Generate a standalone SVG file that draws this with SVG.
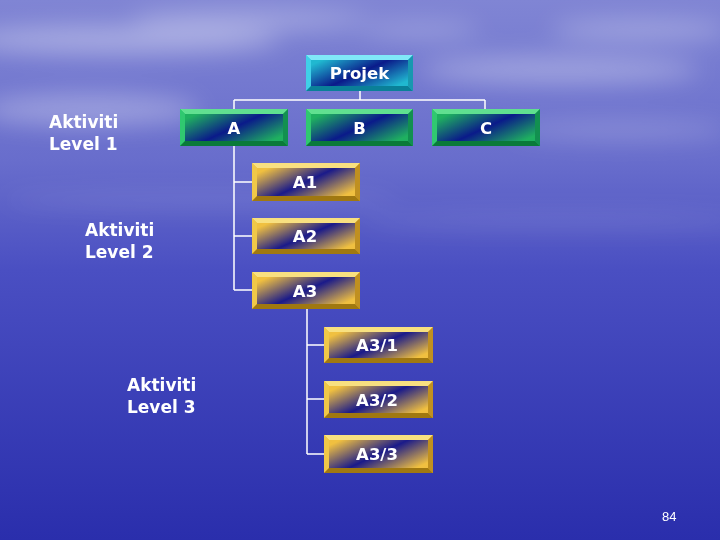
<svg xmlns="http://www.w3.org/2000/svg" width="720" height="540" viewBox="0 0 720 540">
<defs>
<linearGradient id="bg" x1="0" y1="0" x2="0" y2="1">
<stop offset="0" stop-color="#8085d4"/>
<stop offset="0.3" stop-color="#686dcc"/>
<stop offset="0.5" stop-color="#4a4fc2"/>
<stop offset="1" stop-color="#2a2eac"/>
</linearGradient>
<filter id="blur" x="-50%" y="-50%" width="200%" height="200%"><feGaussianBlur stdDeviation="12"/></filter>
<linearGradient id="gGreen" x1="0" y1="0.2" x2="1" y2="0.8">
<stop offset="0" stop-color="#1fb060"/>
<stop offset="0.5" stop-color="#0a1a8a"/>
<stop offset="1" stop-color="#1fb060"/>
</linearGradient>
<linearGradient id="gCyan" x1="0" y1="0.2" x2="1" y2="0.8">
<stop offset="0" stop-color="#20b8d0"/>
<stop offset="0.5" stop-color="#0a1a8a"/>
<stop offset="1" stop-color="#20b8d0"/>
</linearGradient>
<linearGradient id="gGold" x1="0" y1="0.2" x2="1" y2="0.8">
<stop offset="0" stop-color="#f0c040"/>
<stop offset="0.5" stop-color="#1a1a8a"/>
<stop offset="1" stop-color="#f0c040"/>
</linearGradient>
<style>
.lbl{font-family:"DejaVu Sans",Verdana,sans-serif;font-weight:bold;font-size:17px;fill:#ffffff;}
.bt{font-family:"DejaVu Sans",Verdana,sans-serif;font-weight:bold;font-size:16.5px;fill:#ffffff;text-anchor:middle;}
.conn{stroke:#ffffff;stroke-width:1.5;fill:none;}
.green .frame{fill:#22c060;}
.green .tp{fill:#60e090;} .green .bm{fill:#0a7a3a;} .green .lf{fill:#30c870;} .green .rt{fill:#129050;}
.green .in{fill:url(#gGreen);}
.cyan .frame{fill:#30c8e0;}
.cyan .tp{fill:#80e8f8;} .cyan .bm{fill:#0a8098;} .cyan .lf{fill:#40d0e8;} .cyan .rt{fill:#1898b0;}
.cyan .in{fill:url(#gCyan);}
.gold .frame{fill:#e8b830;}
.gold .tp{fill:#f8e080;} .gold .bm{fill:#a07810;} .gold .lf{fill:#f0c848;} .gold .rt{fill:#c09020;}
.gold .in{fill:url(#gGold);}
</style>
</defs>
<rect x="0" y="0" width="720" height="540" fill="url(#bg)"/>
<g filter="url(#blur)" fill="#ffffff">
<ellipse cx="120" cy="40" rx="160" ry="14" opacity="0.35"/>
<ellipse cx="250" cy="20" rx="120" ry="10" opacity="0.3"/>
<ellipse cx="560" cy="70" rx="140" ry="14" opacity="0.3"/>
<ellipse cx="640" cy="30" rx="90" ry="10" opacity="0.3"/>
<ellipse cx="90" cy="110" rx="110" ry="16" opacity="0.3"/>
<ellipse cx="420" cy="30" rx="60" ry="8" opacity="0.25"/>
<ellipse cx="620" cy="130" rx="110" ry="10" opacity="0.2"/>
<ellipse cx="200" cy="200" rx="200" ry="8" opacity="0.12"/>
<ellipse cx="560" cy="220" rx="200" ry="8" opacity="0.12"/>
</g>

<g id="connectors">
<path class="conn" d="M360 91 V100 M234 100 H485 M234 100 V109 M485 100 V109"/>
<path class="conn" d="M234 146 V290 M234 182 H252 M234 236 H252 M234 290 H252"/>
<path class="conn" d="M307 309 V454 M307 345 H324 M307 399 H324 M307 454 H324"/>
</g>

<g id="projek" class="cyan">
<rect class="frame" x="306" y="55" width="107" height="36"/>
<polygon class="tp" points="306,55 413,55 408,60 311,60"/>
<polygon class="lf" points="306,55 311,60 311,86 306,91"/>
<polygon class="rt" points="413,55 413,91 408,86 408,60"/>
<polygon class="bm" points="306,91 311,86 408,86 413,91"/>
<rect class="in" x="311" y="60" width="97" height="26"/>
<text class="bt" x="359.5" y="79">Projek</text>
</g>

<g id="A" class="green">
<rect class="frame" x="180" y="109" width="108" height="37"/>
<polygon class="tp" points="180,109 288,109 283,114 185,114"/>
<polygon class="lf" points="180,109 185,114 185,141 180,146"/>
<polygon class="rt" points="288,109 288,146 283,141 283,114"/>
<polygon class="bm" points="180,146 185,141 283,141 288,146"/>
<rect class="in" x="185" y="114" width="98" height="27"/>
<text class="bt" x="234" y="134">A</text>
</g>

<g id="B" class="green">
<rect class="frame" x="306" y="109" width="107" height="37"/>
<polygon class="tp" points="306,109 413,109 408,114 311,114"/>
<polygon class="lf" points="306,109 311,114 311,141 306,146"/>
<polygon class="rt" points="413,109 413,146 408,141 408,114"/>
<polygon class="bm" points="306,146 311,141 408,141 413,146"/>
<rect class="in" x="311" y="114" width="97" height="27"/>
<text class="bt" x="359.5" y="134">B</text>
</g>

<g id="C" class="green">
<rect class="frame" x="432" y="109" width="108" height="37"/>
<polygon class="tp" points="432,109 540,109 535,114 437,114"/>
<polygon class="lf" points="432,109 437,114 437,141 432,146"/>
<polygon class="rt" points="540,109 540,146 535,141 535,114"/>
<polygon class="bm" points="432,146 437,141 535,141 540,146"/>
<rect class="in" x="437" y="114" width="98" height="27"/>
<text class="bt" x="486" y="134">C</text>
</g>

<g id="A1" class="gold">
<rect class="frame" x="252" y="163" width="108" height="38"/>
<polygon class="tp" points="252,163 360,163 355,168 257,168"/>
<polygon class="lf" points="252,163 257,168 257,196 252,201"/>
<polygon class="rt" points="360,163 360,201 355,196 355,168"/>
<polygon class="bm" points="252,201 257,196 355,196 360,201"/>
<rect class="in" x="257" y="168" width="98" height="28"/>
<text class="bt" x="305" y="188">A1</text>
</g>

<g id="A2" class="gold">
<rect class="frame" x="252" y="218" width="108" height="36"/>
<polygon class="tp" points="252,218 360,218 355,223 257,223"/>
<polygon class="lf" points="252,218 257,223 257,249 252,254"/>
<polygon class="rt" points="360,218 360,254 355,249 355,223"/>
<polygon class="bm" points="252,254 257,249 355,249 360,254"/>
<rect class="in" x="257" y="223" width="98" height="26"/>
<text class="bt" x="305" y="242">A2</text>
</g>

<g id="A3" class="gold">
<rect class="frame" x="252" y="272" width="108" height="37"/>
<polygon class="tp" points="252,272 360,272 355,277 257,277"/>
<polygon class="lf" points="252,272 257,277 257,304 252,309"/>
<polygon class="rt" points="360,272 360,309 355,304 355,277"/>
<polygon class="bm" points="252,309 257,304 355,304 360,309"/>
<rect class="in" x="257" y="277" width="98" height="27"/>
<text class="bt" x="305" y="297">A3</text>
</g>

<g id="A3-1" class="gold">
<rect class="frame" x="324" y="327" width="109" height="36"/>
<polygon class="tp" points="324,327 433,327 428,332 329,332"/>
<polygon class="lf" points="324,327 329,332 329,358 324,363"/>
<polygon class="rt" points="433,327 433,363 428,358 428,332"/>
<polygon class="bm" points="324,363 329,358 428,358 433,363"/>
<rect class="in" x="329" y="332" width="99" height="26"/>
<text class="bt" x="377" y="351">A3/1</text>
</g>

<g id="A3-2" class="gold">
<rect class="frame" x="324" y="381" width="109" height="37"/>
<polygon class="tp" points="324,381 433,381 428,386 329,386"/>
<polygon class="lf" points="324,381 329,386 329,413 324,418"/>
<polygon class="rt" points="433,381 433,418 428,413 428,386"/>
<polygon class="bm" points="324,418 329,413 428,413 433,418"/>
<rect class="in" x="329" y="386" width="99" height="27"/>
<text class="bt" x="377" y="406">A3/2</text>
</g>

<g id="A3-3" class="gold">
<rect class="frame" x="324" y="435" width="109" height="38"/>
<polygon class="tp" points="324,435 433,435 428,440 329,440"/>
<polygon class="lf" points="324,435 329,440 329,468 324,473"/>
<polygon class="rt" points="433,435 433,473 428,468 428,440"/>
<polygon class="bm" points="324,473 329,468 428,468 433,473"/>
<rect class="in" x="329" y="440" width="99" height="28"/>
<text class="bt" x="377" y="460">A3/3</text>
</g>

<g id="labels">
<text class="lbl" x="49" y="128">Aktiviti</text>
<text class="lbl" x="49" y="150">Level 1</text>
<text class="lbl" x="85" y="236">Aktiviti</text>
<text class="lbl" x="85" y="258">Level 2</text>
<text class="lbl" x="127" y="391">Aktiviti</text>
<text class="lbl" x="127" y="413">Level 3</text>
<text x="662" y="521" font-family="Liberation Sans, Arial, sans-serif" font-size="13" fill="#ffffff">84</text>
</g>
</svg>
